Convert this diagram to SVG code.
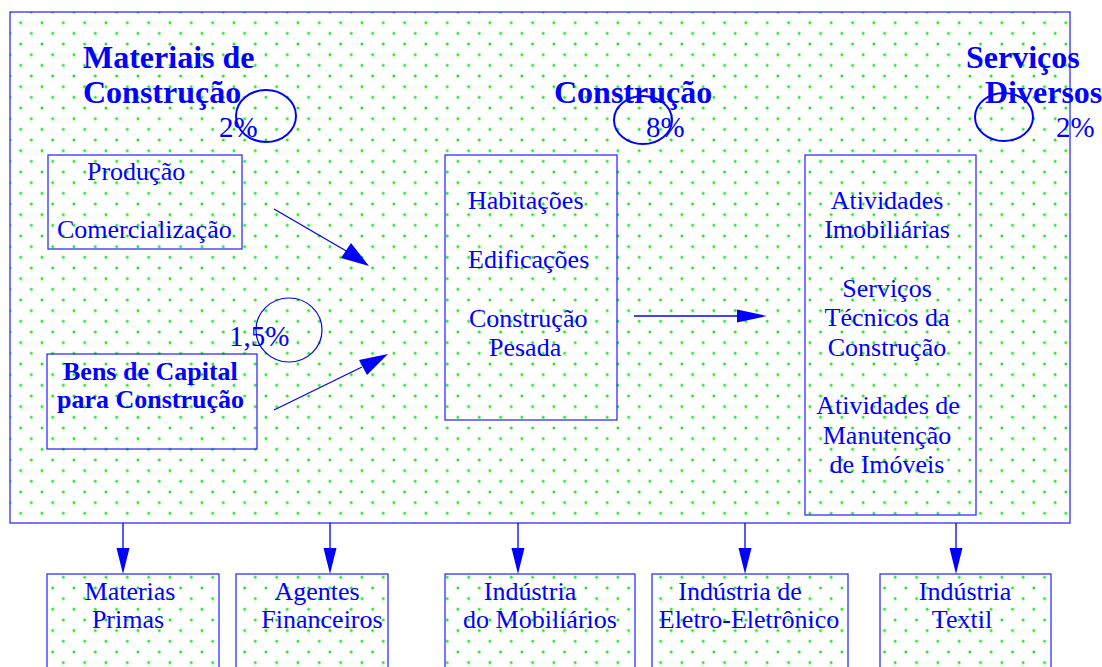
<svg xmlns="http://www.w3.org/2000/svg" width="1102" height="667" viewBox="0 0 1102 667">
<style>
.box{fill:url(#dots);stroke:#3030ff;stroke-width:1.3}
.t{font-family:"Liberation Serif","Times New Roman",serif;font-size:26px;fill:#0000ff}
.b{font-family:"Liberation Serif","Times New Roman",serif;font-size:26px;font-weight:bold;fill:#0000ff}
.h{font-family:"Liberation Serif","Times New Roman",serif;font-size:32px;font-weight:bold;fill:#0000ff}
.p{font-family:"Liberation Serif","Times New Roman",serif;font-size:29px;fill:#0000ff}
.c{text-anchor:middle}
.ring{fill:url(#dots);stroke:#0000ff;stroke-width:2}
.ln{stroke:#0000ff;stroke-width:1.3;fill:none}
.hd{fill:#0000ff}
</style>
<defs>
<pattern id="dots" patternUnits="userSpaceOnUse" x="10" y="12" width="21.33" height="21.33">
<rect width="21.33" height="21.33" fill="#ffffff"/>
<circle cx="0" cy="0" r="1.5" fill="#11ee11"/>
<circle cx="21.33" cy="0" r="1.5" fill="#11ee11"/>
<circle cx="0" cy="21.33" r="1.5" fill="#11ee11"/>
<circle cx="21.33" cy="21.33" r="1.5" fill="#11ee11"/>
<circle cx="10.67" cy="10.67" r="1.5" fill="#11ee11"/>
</pattern>
</defs>
<rect width="1102" height="667" fill="#ffffff"/>

<g id="setor">
<rect class="box" x="10" y="12" width="1060" height="511"/>
</g>

<g id="materiais">
<text class="h" x="83" y="68">Materiais de</text>
<text class="h" x="83" y="103">Construção</text>
<ellipse class="ring" cx="266" cy="116" rx="30" ry="26"/>
<text class="p" x="219" y="137">2%</text>
</g>

<g id="construcao">
<ellipse class="ring" cx="643" cy="120" rx="29" ry="24"/>
<text class="h" x="554" y="103">Construção</text>
<text class="p" x="646" y="137">8%</text>
</g>

<g id="servicos">
<ellipse class="ring" cx="1004" cy="117" rx="29" ry="24"/>
<text class="h" x="966" y="68">Serviços</text>
<text class="h" x="985" y="103">Diversos</text>
<text class="p" x="1056" y="137">2%</text>
</g>

<g id="producao">
<rect class="box" x="48" y="155" width="194" height="94"/>
<text class="t" x="87" y="180">Produção</text>
<text class="t" x="57" y="238">Comercialização</text>
</g>

<g id="bens">
<ellipse cx="289" cy="330" rx="33" ry="32" fill="url(#dots)" stroke="#0000ff" stroke-width="1.2"/>
<text class="p" x="229" y="346">1,5%</text>
<rect class="box" x="47" y="354" width="210" height="95"/>
<text class="b" x="63" y="380">Bens de Capital</text>
<text class="b" x="57" y="408">para Construção</text>
</g>

<g id="obras">
<rect class="box" x="445" y="155" width="172" height="265"/>
<text class="t" x="468" y="209">Habitações</text>
<text class="t" x="468" y="268">Edificações</text>
<text class="t" x="469" y="327">Construção</text>
<text class="t" x="489" y="356">Pesada</text>
</g>

<g id="atividades">
<rect class="box" x="805" y="155" width="171" height="360"/>
<text class="t c" x="887" y="209">Atividades</text>
<text class="t c" x="887" y="238">Imobiliárias</text>
<text class="t c" x="887" y="297">Serviços</text>
<text class="t c" x="887" y="326">Técnicos da</text>
<text class="t c" x="887" y="356">Construção</text>
<text class="t c" x="888" y="414">Atividades de</text>
<text class="t c" x="887" y="444">Manutenção</text>
<text class="t c" x="887" y="473">de Imóveis</text>
</g>

<g id="materias-primas">
<rect class="box" x="47" y="574" width="172" height="100"/>
<text class="t c" x="130" y="600">Materias</text>
<text class="t c" x="128" y="628">Primas</text>
</g>

<g id="agentes">
<rect class="box" x="236" y="574" width="152" height="100"/>
<text class="t c" x="317" y="600">Agentes</text>
<text class="t c" x="322" y="628">Financeiros</text>
</g>

<g id="mobiliarios">
<rect class="box" x="445" y="574" width="190" height="100"/>
<text class="t c" x="530" y="600">Indústria</text>
<text class="t c" x="540" y="628">do Mobiliários</text>
</g>

<g id="eletro">
<rect class="box" x="652" y="574" width="196" height="100"/>
<text class="t c" x="740" y="600">Indústria de</text>
<text class="t c" x="749" y="628">Eletro-Eletrônico</text>
</g>

<g id="textil">
<rect class="box" x="880" y="574" width="171" height="100"/>
<text class="t c" x="965" y="600">Indústria</text>
<text class="t c" x="962" y="628">Textil</text>
</g>

<g id="connectors">
<line class="ln" x1="274" y1="209" x2="348" y2="252"/>
<polygon class="hd" points="369,266 341,258 351,243"/>
<line class="ln" x1="274" y1="410" x2="362" y2="367"/>
<polygon class="hd" points="388,354 367,375 359,360"/>
<line class="ln" x1="634" y1="316" x2="740" y2="316"/>
<polygon class="hd" points="767,316 737,309.5 737,322.5"/>
<line class="ln" x1="123" y1="523" x2="123" y2="550"/>
<polygon class="hd" points="123,574 116.5,548 129.5,548"/>
<line class="ln" x1="330" y1="523" x2="330" y2="550"/>
<polygon class="hd" points="330,574 323.5,548 336.5,548"/>
<line class="ln" x1="518" y1="523" x2="518" y2="550"/>
<polygon class="hd" points="518,574 511.5,548 524.5,548"/>
<line class="ln" x1="745" y1="523" x2="745" y2="550"/>
<polygon class="hd" points="745,574 738.5,548 751.5,548"/>
<line class="ln" x1="956" y1="523" x2="956" y2="550"/>
<polygon class="hd" points="956,574 949.5,548 962.5,548"/>
</g>
</svg>
